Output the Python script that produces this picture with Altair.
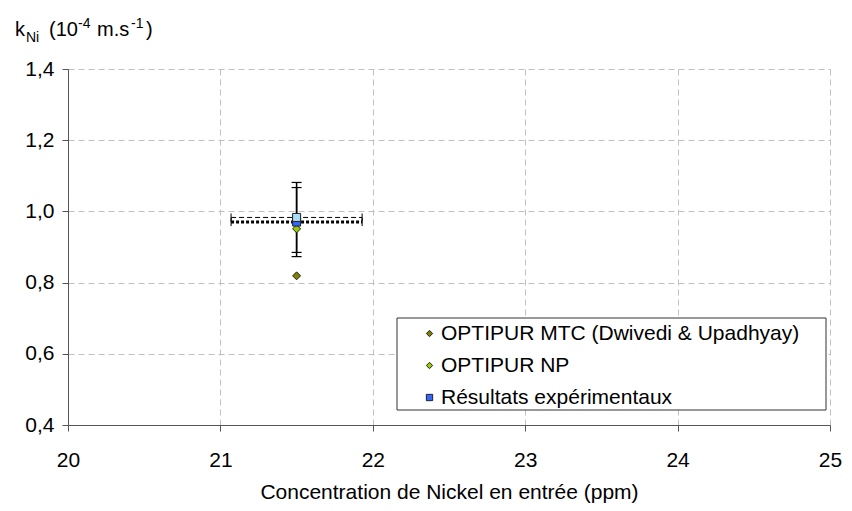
import altair as alt
import pandas as pd

FONT = "Liberation Sans"

# ---- data ----
series_names = ["OPTIPUR MTC (Dwivedi & Upadhyay)", "OPTIPUR NP", "Résultats expérimentaux"]
series_colors = ["#808000", "#99CC00", "#3366FF"]
series_shapes = ["diamond", "diamond", "square"]

conc_in = [21.5, 21.5]          # Nickel inlet concentration (ppm), experiments
k_exp = [0.983, 0.970]          # experimental k_Ni (1e-4 m/s)
k_err_rel = 0.10                # relative error on k
c_err_rel = 0.02                # relative error on concentration

mtc_x = [21.5]
mtc_y = [0.819]
np_x = [21.5]
np_y = [0.951]

x_ticks = [20, 21, 22, 23, 24, 25]
y_ticks = [0.4, 0.6, 0.8, 1.0, 1.2, 1.4]

# ---- tables ----
pts = pd.DataFrame({
    "x": mtc_x + np_x + [conc_in[1]],
    "y": mtc_y + np_y + [k_exp[1]],
    "series": [series_names[0], series_names[1], series_names[2]],
})
exp_light = pd.DataFrame({"x": [conc_in[0]], "y": [k_exp[0]]})

vbars = pd.DataFrame({
    "x": conc_in,
    "lo": [v * (1 - k_err_rel) for v in k_exp],
    "hi": [v * (1 + k_err_rel) for v in k_exp],
})
hbars = pd.DataFrame({
    "y": k_exp,
    "lo": [c * (1 - c_err_rel) for c in conc_in],
    "hi": [c * (1 + c_err_rel) for c in conc_in],
    "k": ["a", "b"],
})
vcaps = pd.DataFrame({
    "x": conc_in + conc_in,
    "y": list(vbars["lo"]) + list(vbars["hi"]),
})
hcaps = pd.DataFrame({
    "x": list(hbars["lo"]) + list(hbars["hi"]),
    "y": k_exp + k_exp,
})

xs = alt.Scale(domain=[20, 25], nice=False)
ys = alt.Scale(domain=[0.4, 1.4], nice=False, zero=False)

X = lambda f: alt.X(f, type="quantitative", scale=xs,
                    axis=alt.Axis(values=x_ticks, title="Concentration de Nickel en entrée (ppm)",
                                  labelFlush=False))
Y = lambda f: alt.Y(f, type="quantitative", scale=ys,
                    axis=alt.Axis(values=y_ticks, title=None, labelFlush=False,
                                  labelExpr="replace(format(datum.value, '.1f'), '.', ',')"))

hbar_a = alt.Chart(hbars[hbars.k == "a"]).mark_rule(color="black", strokeWidth=1, strokeDash=[5, 3]).encode(
    x=X("lo"), x2="hi", y=Y("y"))
hbar_b = alt.Chart(hbars[hbars.k == "b"]).mark_rule(color="black", strokeWidth=3, strokeDash=[3, 2]).encode(
    x=X("lo"), x2="hi", y=Y("y"))
vbar = alt.Chart(vbars).mark_rule(color="black", strokeWidth=1.5).encode(
    x=X("x"), y=Y("lo"), y2="hi")
vcap = alt.Chart(vcaps).mark_point(shape="M-1,0L1,0", size=100, color="black", strokeWidth=1.2,
                                   opacity=1).encode(x=X("x"), y=Y("y"))
hcap = alt.Chart(hcaps).mark_point(shape="M0,-1L0,1", size=64, color="black", strokeWidth=1,
                                   opacity=1).encode(x=X("x"), y=Y("y"))

points = alt.Chart(pts).mark_point(filled=True, size=64, stroke="#222222", strokeWidth=1, opacity=1).encode(
    x=X("x"), y=Y("y"),
    color=alt.Color("series:N", scale=alt.Scale(domain=series_names, range=series_colors),
                    legend=alt.Legend(title=None, orient="none", legendX=329, legendY=249,
                                      labelFont=FONT, labelFontSize=21, labelColor="black",
                                      symbolSize=40, symbolStrokeColor="#222222", symbolStrokeWidth=1,
                                      padding=5, rowPadding=10, labelOffset=1, labelLimit=700,
                                      symbolOffset=17)),
    shape=alt.Shape("series:N", scale=alt.Scale(domain=series_names, range=series_shapes)),
)
light = alt.Chart(exp_light).mark_point(filled=True, shape="square", size=64, fill="#A8DDF5",
                                        stroke="#222222", strokeWidth=1, opacity=1).encode(
    x=X("x"), y=Y("y"))

# legend frame (drawn under the legend entries)
legend_box = alt.Chart(pd.DataFrame({"b": [0]})).mark_rect(
    fill="white", stroke="#333333", strokeWidth=1
).encode(x=alt.value(329), x2=alt.value(758), y=alt.value(249), y2=alt.value(341))

# y title with sub/superscripts
def seg(txt, px, py, size):
    return alt.Chart(pd.DataFrame({"t": [txt]})).mark_text(
        align="left", baseline="alphabetic", font=FONT, fontSize=size, color="black"
    ).encode(text="t:N", x=alt.value(px), y=alt.value(py))

ox, oy = 68, 69
title_layers = [
    seg("k", 15 - ox, 36 - oy, 20),
    seg("Ni", 26 - ox, 42 - oy, 14),
    seg("(10", 49 - ox, 36 - oy, 20),
    seg("-4", 78 - ox, 28 - oy, 14),
    seg("m.s", 97 - ox, 36 - oy, 20),
    seg("-1", 131 - ox, 28 - oy, 14),
    seg(")", 146 - ox, 36 - oy, 20),
]

chart = alt.layer(hbar_a, hbar_b, vbar, vcap, hcap, legend_box, points, light, *title_layers).resolve_scale(
    color="shared", shape="shared"
).properties(
    width=762, height=356,
    autosize=alt.AutoSizeParams(type="none"),
    padding={"left": 60, "top": 61, "right": 14, "bottom": 78},
).configure_view(stroke=None).configure_axis(
    labelFont=FONT, titleFont=FONT, labelFontSize=21, titleFontSize=21,
    labelColor="black", titleColor="black", titleFontWeight="normal",
    grid=True, gridColor="#C0C0C0", gridDash=[6, 4], gridWidth=1,
    domainColor="#555555", tickColor="#555555", tickSize=6, domainWidth=1,
).configure_axisX(labelPadding=18, titlePadding=11).configure_axisY(labelPadding=8)

chart.save("out.html", embed_options={"renderer": "svg", "actions": False})
